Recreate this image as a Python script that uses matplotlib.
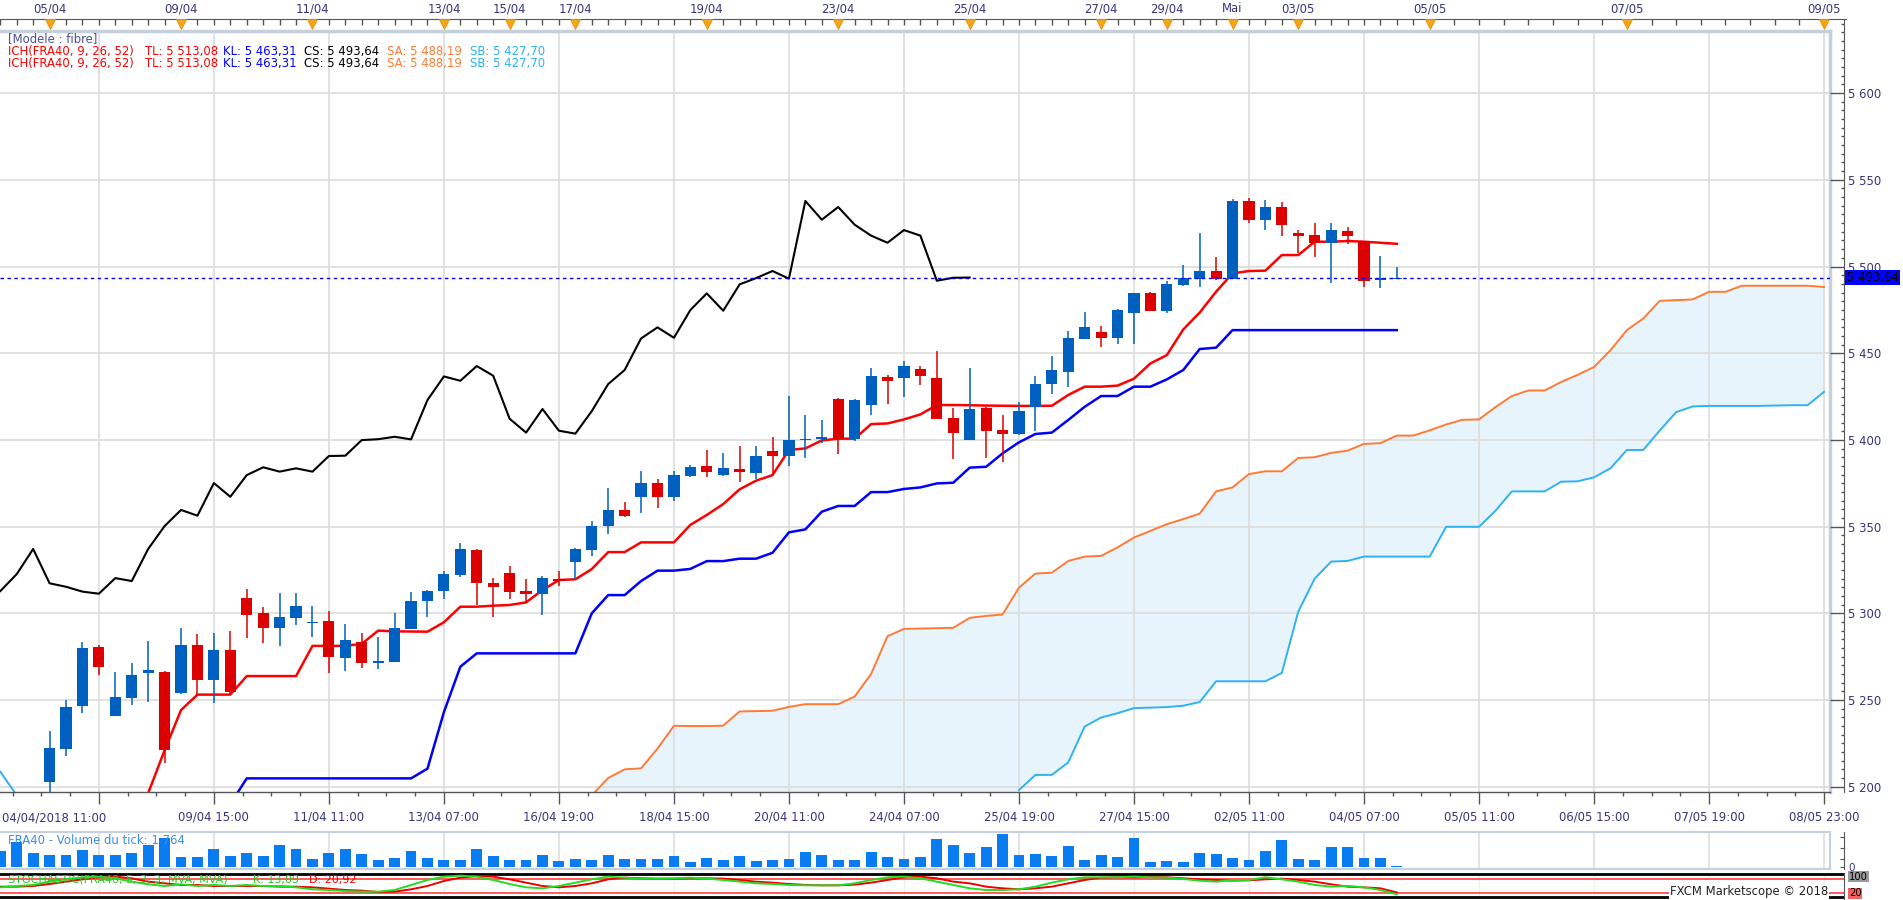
import numpy as np
import matplotlib.pyplot as plt
import matplotlib.transforms as mtransforms
from matplotlib.ticker import FuncFormatter

# ---- data (candle index k: 0 = left edge of the view) ----
first_candle = 3
opens = [5202.9, 5221.9, 5246.7, 5280.5, 5240.9, 5251.3, 5265.7, 5266.1, 5254.2, 5281.7,
         5261.7, 5278.8, 5308.7, 5300.2, 5291.7, 5297.5, 5294.6, 5295.5, 5274.4, 5283.6,
         5271.7, 5272.1, 5290.9, 5307.3, 5313.0, 5322.1, 5336.5, 5317.5, 5323.2, 5312.8,
         5311.3, 5320.0, 5329.8, 5336.5, 5350.5, 5359.6, 5367.2, 5375.1, 5367.2, 5379.2,
         5384.9, 5379.9, 5383.0, 5381.1, 5393.4, 5390.9, 5400.1, 5400.5, 5423.6, 5400.5,
         5420.1, 5436.1, 5435.9, 5440.7, 5435.7, 5412.6, 5399.9, 5418.4, 5405.5, 5403.4,
         5419.1, 5432.0, 5439.3, 5458.4, 5462.0, 5458.9, 5473.4, 5484.5, 5474.5, 5489.5,
         5493.0, 5497.4, 5493.0, 5537.8, 5527.0, 5534.3, 5519.3, 5518.1, 5513.7, 5520.5,
         5514.5, 5492.4, 5492.6]
highs = [5232.1, 5250.0, 5283.4, 5281.7, 5266.1, 5271.3, 5284.2, 5266.7, 5291.5, 5288.0,
         5288.6, 5289.8, 5313.9, 5303.6, 5311.7, 5311.7, 5304.2, 5301.3, 5293.8, 5288.6,
         5286.3, 5300.2, 5312.3, 5313.4, 5324.2, 5340.5, 5336.9, 5320.1, 5327.3, 5319.8,
         5321.3, 5324.2, 5337.4, 5353.2, 5372.4, 5364.2, 5382.0, 5377.4, 5382.2, 5385.5,
         5394.2, 5392.2, 5396.5, 5396.5, 5401.7, 5425.3, 5414.3, 5411.5, 5424.0, 5423.6,
         5441.4, 5437.2, 5445.5, 5442.6, 5451.2, 5418.4, 5441.4, 5419.0, 5414.3, 5421.6,
         5436.8, 5448.4, 5462.8, 5473.7, 5465.7, 5475.5, 5484.5, 5485.3, 5491.6, 5500.8,
         5519.3, 5505.5, 5538.9, 5539.5, 5538.3, 5537.2, 5521.0, 5525.1, 5525.1, 5522.8,
         5514.5, 5506.0, 5500.0]
lows = [5194.0, 5217.7, 5242.7, 5264.4, 5240.9, 5247.1, 5249.0, 5213.5, 5253.4, 5252.9,
        5248.1, 5252.9, 5285.9, 5283.0, 5281.3, 5293.4, 5286.5, 5265.7, 5266.9, 5268.6,
        5268.0, 5272.1, 5290.9, 5298.0, 5308.4, 5321.1, 5304.8, 5298.0, 5308.2, 5305.7,
        5299.0, 5315.9, 5319.2, 5333.2, 5345.7, 5355.3, 5358.0, 5360.9, 5364.9, 5378.8,
        5378.8, 5379.4, 5375.9, 5377.4, 5379.7, 5385.1, 5389.7, 5398.0, 5391.7, 5399.3,
        5414.3, 5420.7, 5424.9, 5431.6, 5412.2, 5389.2, 5399.9, 5389.7, 5387.4, 5402.8,
        5405.1, 5426.5, 5430.7, 5458.4, 5453.7, 5455.3, 5455.3, 5474.5, 5473.4, 5488.7,
        5488.4, 5492.2, 5493.0, 5525.3, 5521.0, 5517.8, 5507.6, 5505.7, 5490.7, 5513.1,
        5488.4, 5487.8, 5492.6]
closes = [5222.1, 5245.9, 5280.0, 5269.2, 5251.7, 5264.4, 5267.3, 5221.1, 5281.7, 5261.7,
          5278.8, 5254.8, 5299.1, 5291.7, 5297.8, 5304.2, 5295.0, 5275.0, 5284.6, 5271.5,
          5272.1, 5291.5, 5307.1, 5312.8, 5322.6, 5337.1, 5317.3, 5315.3, 5312.5, 5311.3,
          5320.3, 5318.6, 5337.1, 5350.3, 5359.6, 5356.3, 5375.1, 5367.2, 5379.7, 5384.2,
          5381.7, 5383.6, 5381.7, 5390.7, 5390.9, 5399.9, 5400.4, 5401.8, 5400.3, 5423.0,
          5436.6, 5434.1, 5442.6, 5437.0, 5412.2, 5404.2, 5417.8, 5405.3, 5403.6, 5416.6,
          5432.2, 5440.3, 5458.5, 5464.9, 5458.9, 5474.9, 5484.5, 5474.5, 5489.7, 5493.3,
          5497.4, 5493.0, 5537.8, 5527.0, 5534.3, 5524.1, 5517.8, 5513.7, 5521.0, 5517.8,
          5491.8, 5493.5, 5493.64]

tenkan_start = 9
tenkan = [5196.3, 5221.0, 5244.2, 5253.1, 5253.1, 5253.1, 5263.8, 5263.8, 5263.8, 5263.8,
          5281.2, 5281.2, 5281.2, 5282.4, 5290.0, 5289.6, 5289.5, 5289.4, 5294.8, 5303.8,
          5303.8, 5304.4, 5304.8, 5306.3, 5313.4, 5319.2, 5319.6, 5325.5, 5335.3, 5335.3,
          5340.9, 5340.9, 5340.9, 5351.0, 5356.7, 5363.0, 5371.5, 5376.5, 5379.7, 5394.2,
          5395.1, 5399.7, 5400.7, 5400.7, 5409.1, 5409.5, 5411.8, 5414.7, 5420.1, 5420.1,
          5420.0, 5419.8, 5419.7, 5419.6, 5419.6, 5419.7, 5425.9, 5430.7, 5430.7, 5431.3,
          5435.3, 5444.1, 5448.9, 5463.7, 5473.4, 5485.5, 5496.0, 5497.4, 5497.6, 5506.6,
          5506.6, 5514.3, 5514.3, 5514.7, 5514.3, 5513.7, 5513.08]
kijun_start = 14
kijun = [5190.0, 5204.8, 5204.8, 5204.8, 5204.8, 5204.8, 5204.8, 5204.8, 5204.8, 5204.8,
         5204.8, 5204.8, 5210.4, 5243.0, 5269.2, 5276.9, 5276.9, 5276.9, 5276.9, 5276.9,
         5276.9, 5276.9, 5300.0, 5310.5, 5310.5, 5318.6, 5324.6, 5324.6, 5325.6, 5330.1,
         5330.1, 5331.5, 5331.5, 5334.9, 5346.7, 5348.4, 5358.6, 5361.9, 5361.9, 5369.9,
         5369.9, 5371.7, 5372.6, 5374.9, 5375.3, 5384.0, 5384.5, 5392.2, 5398.6, 5403.4,
         5404.2, 5411.5, 5419.1, 5425.3, 5425.3, 5430.7, 5430.7, 5434.9, 5440.3, 5452.4,
         5453.2, 5463.31, 5463.31, 5463.31, 5463.31, 5463.31, 5463.31, 5463.31, 5463.31,
         5463.31, 5463.31, 5463.31]
senkou_a_start = 36
senkou_a = [5195.0, 5205.0, 5210.0, 5210.6, 5222.0, 5235.1, 5235.0, 5235.0, 5235.2, 5243.4,
            5243.6, 5243.8, 5246.0, 5247.6, 5247.6, 5247.6, 5252.0, 5265.0, 5286.8, 5291.0,
            5291.2, 5291.4, 5291.6, 5297.4, 5298.5, 5299.3, 5314.8, 5322.9, 5323.4, 5330.2,
            5332.7, 5333.1, 5338.0, 5343.7, 5347.5, 5351.4, 5354.3, 5357.5, 5370.3, 5372.6,
            5380.3, 5381.9, 5381.9, 5389.6, 5390.0, 5392.5, 5393.8, 5397.7, 5398.1, 5402.5,
            5402.5, 5405.5, 5408.9, 5411.6, 5411.8, 5418.9, 5425.3, 5428.5, 5428.5, 5433.4,
            5437.5, 5442.0, 5451.7, 5463.3, 5470.0, 5480.2, 5480.6, 5481.0, 5485.4, 5485.4,
            5488.9, 5488.9, 5488.9, 5488.9, 5488.9, 5488.19]
senkou_b_left = [5208.7, 5195.0]          # k = 0, 1
senkou_b_start = 62
senkou_b = [5198.0, 5206.8, 5206.8, 5214.0, 5234.7, 5239.9, 5242.4, 5245.3, 5245.6, 5245.9,
            5246.7, 5248.8, 5260.8, 5260.8, 5260.8, 5260.8, 5265.6, 5301.0, 5320.0, 5329.8,
            5330.2, 5332.7, 5332.7, 5332.7, 5332.7, 5332.7, 5349.9, 5349.9, 5349.9, 5359.1,
            5370.3, 5370.3, 5370.3, 5375.9, 5376.1, 5378.4, 5383.6, 5394.2, 5394.2, 5405.4,
            5416.0, 5419.3, 5419.6, 5419.6, 5419.6, 5419.6, 5419.8, 5420.0, 5420.0, 5427.70]

volume = [47, 73, 41, 35, 35, 50, 35, 35, 41, 65, 85, 29, 29, 53, 32, 41, 32, 65, 53, 23,
          41, 53, 38, 20, 26, 47, 26, 20, 20, 53, 32, 20, 20, 35, 17, 23, 20, 35, 23, 23,
          23, 32, 14, 26, 20, 32, 17, 20, 23, 44, 35, 20, 20, 44, 29, 23, 29, 83, 65, 41,
          59, 98, 35, 38, 32, 62, 20, 35, 29, 86, 14, 17, 14, 41, 38, 26, 20, 47, 80, 23,
          20, 59, 59, 26, 26, 2]
stoch_k = [43.4, 49.2, 53.6, 68.1, 78.2, 86.9, 89.8, 82.5, 68.1, 56.5, 49.2, 56.5, 49.2, 53.6,
           49.2, 53.6, 49.2, 49.2, 43.4, 34.7, 31.8, 27.5, 24.6, 24.6, 31.8, 53.6, 75.3, 89.8,
           94.1, 89.8, 75.3, 57.9, 43.4, 39.1, 49.2, 63.7, 78.2, 89.8, 85.4, 81.1, 81.1, 82.5,
           85.4, 81.1, 75.3, 68.1, 60.8, 57.9, 53.6, 52.1, 52.1, 52.1, 60.8, 75.3, 86.9, 89.8,
           82.5, 68.1, 53.6, 39.1, 31.8, 31.8, 34.7, 46.3, 63.7, 78.2, 86.9, 86.9, 86.9, 89.8,
           86.9, 85.4, 79.6, 72.4, 68.1, 75.3, 75.3, 86.9, 78.2, 68.1, 53.6, 46.3, 49.2, 43.4,
           31.8, 13.09]
stoch_d = [46.3, 46.3, 49.2, 57.9, 68.1, 78.2, 86.9, 89.8, 82.5, 68.1, 60.8, 53.6, 53.6, 49.2,
           49.2, 49.2, 49.2, 46.3, 46.3, 43.4, 37.6, 31.8, 28.9, 23.1, 24.6, 34.7, 49.2, 71.0,
           85.4, 92.7, 89.8, 78.2, 63.7, 49.2, 43.4, 49.2, 60.8, 78.2, 85.4, 82.5, 81.1, 81.1,
           82.5, 82.5, 81.1, 75.3, 68.1, 63.7, 57.9, 53.6, 52.1, 52.1, 55.0, 63.7, 75.3, 86.9,
           89.8, 82.5, 68.1, 60.8, 46.3, 39.1, 34.7, 39.1, 46.3, 60.8, 75.3, 85.4, 86.9, 86.9,
           88.3, 86.9, 82.5, 78.2, 75.3, 72.4, 73.9, 78.2, 81.1, 75.3, 68.1, 56.5, 46.3, 43.4,
           39.1, 20.92]

time_ticks = list(range(6, 112, 7))
time_labels = ['', '09/04 15:00', '11/04 11:00', '13/04 07:00', '16/04 19:00', '18/04 15:00',
               '20/04 11:00', '24/04 07:00', '25/04 19:00', '27/04 15:00', '02/05 11:00',
               '04/05 07:00', '05/05 11:00', '06/05 15:00', '07/05 19:00', '08/05 23:00']
day_ticks = [3, 11, 19, 27, 31, 35, 43, 51, 59, 67, 71, 75, 79, 87, 99, 111]
day_labels = ['05/04', '09/04', '11/04', '13/04', '15/04', '17/04', '19/04', '23/04',
              '25/04', '27/04', '29/04', 'Mai', '03/05', '05/05', '07/05', '09/05']

# ---- layout helpers (pixels of the 1903x900 picture) ----
W, H = 1903, 900
PX = 16.43   # pixels per candle
X0 = 0.3
FS = 8.4


def box(x0, y0, x1, y1):
    return [x0 / W, 1 - y1 / H, (x1 - x0) / W, (y1 - y0) / H]


def klim(x0, x1):
    return ((x0 - X0) / PX, (x1 - X0) / PX)


def ftext(x, y, s, **kw):
    kw.setdefault('fontsize', FS)
    kw.setdefault('va', 'center')
    return fig.text(x / W, 1 - y / H, s, **kw)


def fr(v):
    return f'{v:,.2f}'.replace(',', ' ').replace('.', ',')


UP, DOWN = '#0060c0', '#dd0000'
TXT = '#35357a'
GRID = '#dedede'
FRAME = '#c6cfdc'
DARK = '#555555'
CLOUD = '#e7f4fc'
SA_C, SB_C = '#ff7a35', '#2fb2f2'

plt.rcParams['font.family'] = 'DejaVu Sans'
fig = plt.figure(figsize=(W / 100, H / 100), dpi=100)
fig.patch.set_facecolor('white')

YLO = 5200 - (791.7 - 786.7) / 1.734
YHI = 5200 + (786.7 - 31) / 1.734

# ---- main chart ----
ax = fig.add_axes(box(0, 31, 1830, 791.7))
ax.set_xlim(*klim(0, 1830))
ax.set_ylim(YLO, YHI)
ax.set_axisbelow('line')
ax.set_yticks(np.arange(5200, 5601, 50))
ax.tick_params(axis='y', left=False, labelleft=False)
ax.set_xticks(time_ticks)
ax.set_xticklabels(time_labels)
ax.set_xticks(np.arange(6 - 1.75 * 3, 112, 1.75), minor=True)
ax.tick_params(axis='x', which='major', direction='out', length=8.4, width=1, color=DARK,
               pad=5.2, labelsize=FS, labelcolor=TXT)
ax.tick_params(axis='x', which='minor', direction='out', length=3, width=1, color=DARK)
ax.grid(True, which='major', color=GRID, lw=1.3)
ax.spines['left'].set_visible(False)
for s in ('top', 'right'):
    ax.spines[s].set_color(FRAME)
    ax.spines[s].set_linewidth(2.5)
ax.spines['bottom'].set_color(DARK)
ax.spines['bottom'].set_linewidth(1)

# cloud
ka = np.arange(senkou_a_start, senkou_a_start + len(senkou_a))
sa = np.array(senkou_a)
sb_full = np.full(len(ka), np.nan)
off = senkou_b_start - senkou_a_start
sb_full[off:off + len(senkou_b)] = senkou_b
sb_fill = np.where(np.isnan(sb_full), YLO - 5, sb_full)
ax.fill_between(ka, sb_fill, sa, where=sa >= sb_fill, color=CLOUD, lw=0, zorder=1)
ax.plot(ka, sa, color=SA_C, lw=1.4, zorder=2)
kb = np.arange(senkou_b_start, senkou_b_start + len(senkou_b))
ax.plot(kb, senkou_b, color=SB_C, lw=1.4, zorder=2)
ax.plot(np.arange(len(senkou_b_left)), senkou_b_left, color=SB_C, lw=1.4, zorder=2)

# chikou = closes shifted 26 periods back
kc = np.arange(first_candle, first_candle + len(closes))
c = np.array(closes)
o = np.array(opens)
h = np.array(highs)
lo = np.array(lows)
sel = kc >= 26
ax.plot(kc[sel] - 26, c[sel], color='black', lw=1.5, zorder=2)

ax.plot(np.arange(tenkan_start, tenkan_start + len(tenkan)), tenkan, color='#ff0000', lw=1.8,
        zorder=3)
ax.plot(np.arange(kijun_start, kijun_start + len(kijun)), kijun, color='#0000ff', lw=1.8,
        zorder=3)

# candles
col = np.where(c >= o, UP, DOWN)
ax.vlines(kc, lo, h, colors=col, lw=1.1, zorder=4)
body = np.maximum(np.abs(c - o), 0.9)
base = np.minimum(o, c) - (body - np.abs(c - o)) / 2
ax.bar(kc, body, bottom=base, width=0.68, color=col, zorder=5)

last = closes[-1]
ax.axhline(last, color='#0000ff', lw=1, ls=(0, (2.5, 2.5)), zorder=6)

# right price scale
ay = fig.add_axes(box(1830, 19, 1844, 791.7))
ay.set_ylim(YLO, 5200 + (786.7 - 19) / 1.734)
ay.patch.set_alpha(0)
for s in ('left', 'top', 'bottom'):
    ay.spines[s].set_visible(False)
ay.spines['right'].set_color(DARK)
ay.set_xticks([])
ay.yaxis.tick_right()
ay.set_yticks(np.arange(5200, 5601, 50))
ay.set_yticks(np.arange(5200, 5641, 5), minor=True)
ay.yaxis.set_major_formatter(FuncFormatter(lambda v, p: f'{int(v):,}'.replace(',', ' ')))
ay.tick_params(axis='y', which='major', direction='in', length=10, width=1, color=DARK,
               labelsize=FS, labelcolor=TXT, pad=3)
ay.tick_params(axis='y', which='minor', direction='in', length=2.2, width=1, color=DARK)
tr = mtransforms.blended_transform_factory(ay.transAxes, ay.transData)
ay.text(1.2, last, fr(last), transform=tr, fontsize=FS, color='black', va='center',
        ha='left', clip_on=False,
        bbox=dict(boxstyle='square,pad=0.12', fc='#0000ff', ec='none'), zorder=10)

# top date scale
axt = fig.add_axes(box(0, 19, 1846, 31))
axt.set_xlim(*klim(0, 1846))
axt.set_ylim(0, 1)
axt.patch.set_alpha(0)
for s in ('left', 'right', 'bottom'):
    axt.spines[s].set_visible(False)
axt.spines['top'].set_color(DARK)
axt.xaxis.tick_top()
axt.set_yticks([])
axt.set_xticks(day_ticks)
axt.set_xticklabels(day_labels)
axt.set_xticks(list(np.arange(0, 87)) + list(np.arange(87, 112, 1.5)), minor=True)
axt.tick_params(axis='x', which='both', direction='in', length=4.3, width=1, color=DARK)
axt.tick_params(axis='x', which='major', pad=2.6, labelsize=FS, labelcolor=TXT)
axt.plot(day_ticks, [0.6] * len(day_ticks), 'v', color='#f7a41d', ms=7, mec='#e88f00',
         mew=0.6, clip_on=False, zorder=5)

# legend texts
ftext(8, 39, '[Modele : fibre]', color='#505098')
for yy in (52, 63):
    ftext(8, yy, 'ICH(FRA40, 9, 26, 52)', color='#ff0000')
    ftext(145, yy, 'TL: ' + fr(tenkan[-1]), color='#ff0000')
    ftext(223, yy, 'KL: ' + fr(kijun[-1]), color='#0000ff')
    ftext(304, yy, 'CS: ' + fr(closes[-1]), color='black')
    ftext(387, yy, 'SA: ' + fr(senkou_a[-1]), color=SA_C)
    ftext(470, yy, 'SB: ' + fr(senkou_b[-1]), color=SB_C)
ftext(2, 817.7, '04/04/2018 11:00', color=TXT, ha='left')

# ---- volume panel ----
kv = np.arange(len(volume))
av = fig.add_axes(box(0, 831.7, 1830, 869))
av.set_xlim(*klim(0, 1830))
av.set_ylim(-7, 105)
av.bar(kv, volume, width=0.66, color='#0a7cf2', zorder=2)
av.set_xticks(time_ticks)
av.set_yticks([])
av.tick_params(axis='x', length=0, labelbottom=False)
av.grid(True, axis='x', color=GRID, lw=1.2)
av.set_axisbelow(True)
av.spines['left'].set_visible(False)
for s in ('top', 'right', 'bottom'):
    av.spines[s].set_color(FRAME)
    av.spines[s].set_linewidth(1.5)
ftext(8, 840, 'FRA40 - Volume du tick: 1 764', color='#3a8ee6')

avr = fig.add_axes(box(1830, 831.7, 1844, 869))
avr.set_ylim(-7, 105)
avr.patch.set_alpha(0)
for s in ('left', 'top', 'bottom'):
    avr.spines[s].set_visible(False)
avr.spines['right'].set_color(DARK)
avr.set_xticks([])
avr.yaxis.tick_right()
avr.set_yticks([0, 23, 56, 89])
avr.set_yticklabels(['0', '', '', ''])
avr.tick_params(axis='y', direction='in', length=3, color=DARK, labelsize=7.5,
                labelcolor=TXT, pad=3)

# ---- stochastic panel ----
ast = fig.add_axes(box(0, 873, 1844, 899))
ast.set_xlim(*klim(0, 1844))
ast.set_ylim(-7.4, 105.7)
ast.set_xticks(time_ticks)
ast.set_yticks([])
ast.tick_params(axis='x', length=0, labelbottom=False)
ast.grid(True, axis='x', color='#eeeeee', lw=1)
for s in ('left', 'top', 'bottom'):
    ast.spines[s].set_visible(False)
ast.spines['right'].set_color(DARK)
for lvl, cc, lw in ((100, 'black', 2), (0, 'black', 2), (80, '#ff4040', 1.2), (20, '#ff4040', 1.2)):
    ast.axhline(lvl, color=cc, lw=lw, zorder=2)
ks = np.arange(len(stoch_k))
ast.plot(ks, stoch_d, color='#ee0000', lw=1.4, zorder=3)
ast.plot(ks, stoch_k, color='#22dd22', lw=1.4, zorder=4)
ftext(8, 879.5, 'STOCHASTIC(FRA40, 5, 3, 3, MVA, MVA)', color='#22cc22', fontsize=8)
ftext(253, 879.5, 'K: ' + fr(stoch_k[-1]), color='#22cc22', fontsize=8)
ftext(309, 879.5, 'D: ' + fr(stoch_d[-1]), color='#ee0000', fontsize=8)
ftext(1849, 876.5, '100', color='black', fontsize=7.2,
      bbox=dict(boxstyle='square,pad=0.08', fc='#9a9a9a', ec='none'))
ftext(1849, 893.5, '20', color='black', fontsize=7.2,
      bbox=dict(boxstyle='square,pad=0.08', fc='#f26060', ec='none'))
ftext(1828, 892, 'FXCM Marketscope © 2018', color='#222222', ha='right',
      bbox=dict(boxstyle='square,pad=0.1', fc='white', ec='none'))

fig.savefig('out.png', dpi=100, facecolor='white')
